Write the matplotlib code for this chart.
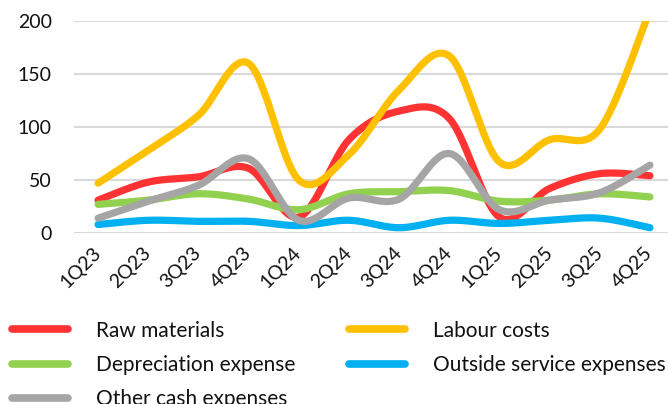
import matplotlib
matplotlib.use("Agg")

import matplotlib.pyplot as plt
import numpy as np

quarters = ["1Q23", "2Q23", "3Q23", "4Q23", "1Q24", "2Q24",
            "3Q24", "4Q24", "1Q25", "2Q25", "3Q25", "4Q25"]

raw_materials = [31, 48, 53, 61, 15, 88, 115, 108, 15, 42, 56, 54]
labour_costs = [47, 78, 111, 160, 50, 74, 135, 167, 67, 88, 98, 210]
depreciation = [27, 31, 37, 32, 22, 37, 39, 40, 30, 31, 37, 34]
outside_service = [8, 12, 11, 11, 7, 12, 5, 12, 9, 12, 14, 5]
other_cash = [14, 30, 45, 70, 12, 33, 32, 75, 22, 31, 38, 64]

series = [
    ("Raw materials", raw_materials, "#FF3333"),
    ("Labour costs", labour_costs, "#FFC000"),
    ("Depreciation expense", depreciation, "#92D050"),
    ("Outside service expenses", outside_service, "#00B0F0"),
    ("Other cash expenses", other_cash, "#A5A5A5"),
]


def smooth(xs, ys, steps=30):
    # Catmull-Rom curve through the points, like a spreadsheet's smoothed line
    xs = np.asarray(xs, dtype=float)
    ys = np.asarray(ys, dtype=float)
    px = np.concatenate([[xs[0]], xs, [xs[-1]]])
    py = np.concatenate([[ys[0]], ys, [ys[-1]]])
    out_x, out_y = [], []
    t = np.linspace(0, 1, steps)
    for i in range(1, len(px) - 2):
        for arr, out in ((px, out_x), (py, out_y)):
            p0, p1, p2, p3 = arr[i - 1], arr[i], arr[i + 1], arr[i + 2]
            m1 = (p2 - p0) / 2
            m2 = (p3 - p1) / 2
            h00 = 2 * t**3 - 3 * t**2 + 1
            h10 = t**3 - 2 * t**2 + t
            h01 = -2 * t**3 + 3 * t**2
            h11 = t**3 - t**2
            out.extend(h00 * p1 + h10 * m1 + h01 * p2 + h11 * m2)
    return np.array(out_x), np.array(out_y)


plt.rcParams["font.family"] = ["Lato", "DejaVu Sans"]

fig = plt.figure(figsize=(6.68, 4.04), dpi=100)
ax = fig.add_axes([74 / 668, 171 / 404, 594 / 668, 212 / 404])

x = np.arange(len(quarters))
handles = {}
for name, vals, color in series:
    sx, sy = smooth(x, vals)
    (ln,) = ax.plot(sx, sy, color=color, lw=5.2, solid_capstyle="round",
                    solid_joinstyle="round", label=name)
    handles[name] = ln

ax.set_ylim(0, 200)
ax.set_xlim(-0.48, 11.36)
ax.set_yticks([0, 50, 100, 150, 200])
ax.yaxis.grid(True, color="#D9D9D9", lw=1.5)
ax.set_axisbelow(True)
for s in ax.spines.values():
    s.set_visible(False)
ax.tick_params(axis="both", length=0, labelsize=14, colors="#111111")
ax.tick_params(axis="y", pad=16)
ax.set_xticks(x)
ax.set_xticklabels(quarters, rotation=45, ha="right", va="center",
                   rotation_mode="anchor", fontsize=14)
ax.tick_params(axis="x", pad=12)

legend_kw = dict(loc="upper left", frameon=False, fontsize=15,
                 handlelength=2.7, handletextpad=1.35, labelspacing=0.68,
                 borderaxespad=0, borderpad=0, labelcolor="#111111")
col1 = ["Raw materials", "Depreciation expense", "Other cash expenses"]
col2 = ["Labour costs", "Outside service expenses"]
for names, x0 in ((col1, 12 / 668), (col2, 349 / 668)):
    leg = fig.legend(handles=[handles[n] for n in names], labels=names,
                     bbox_to_anchor=(x0, 0.206), **legend_kw)
    for h in leg.get_lines():
        h.set_linewidth(5.5)

fig.savefig("out.png", dpi=100)
